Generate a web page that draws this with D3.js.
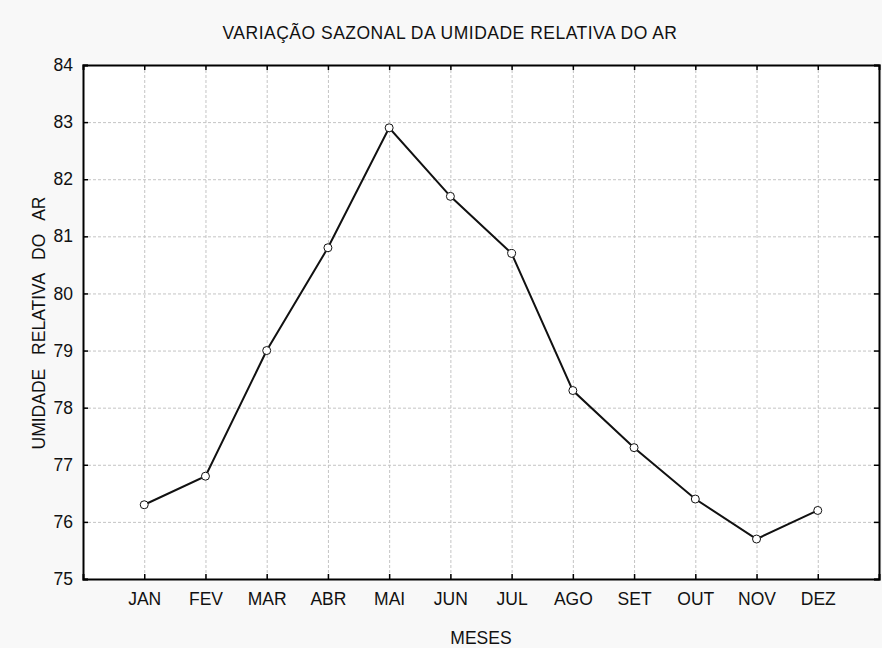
<!DOCTYPE html>
<html>
<head>
<meta charset="utf-8">
<script src="https://cdn.jsdelivr.net/npm/d3@7"></script>
<style>
  body { margin: 0; background: #f8f8f8; }
  text { font-family: "Liberation Sans", Arial, sans-serif; }
</style>
</head>
<body>
<svg width="882" height="648"></svg>
<script>
var months = ["JAN","FEV","MAR","ABR","MAI","JUN","JUL","AGO","SET","OUT","NOV","DEZ"]
var umidade = [76.3, 76.8, 79.0, 80.8, 82.9, 81.7, 80.7, 78.3, 77.3, 76.4, 75.7, 76.2]
var yTicks = [75, 76, 77, 78, 79, 80, 81, 82, 83, 84]

var svg = d3.select("svg")
var plotL = 83, plotR = 879, plotT = 65, plotB = 579

var xScale = d3.scalePoint().domain(months).range([plotL, plotR]).padding(1)
var yScale = d3.scaleLinear().domain([75, 84]).range([plotB, plotT])

svg.append("rect").attr("x", plotL).attr("y", plotT)
  .attr("width", plotR - plotL).attr("height", plotB - plotT).attr("fill", "#fff")

// grid
var grid = svg.append("g").attr("stroke", "#c4c4c4").attr("stroke-dasharray", "3,2").attr("stroke-width", 1)
grid.selectAll("line.gx").data(months).enter().append("line")
  .attr("x1", d => xScale(d) + 0.5).attr("x2", d => xScale(d) + 0.5)
  .attr("y1", plotT).attr("y2", plotB)
grid.selectAll("line.gy").data(yTicks.slice(1, -1)).enter().append("line")
  .attr("y1", d => yScale(d) + 0.5).attr("y2", d => yScale(d) + 0.5)
  .attr("x1", plotL).attr("x2", plotR)

// axes with inward ticks
var xAxis = d3.axisBottom(xScale).tickSize(-5).tickPadding(14)
svg.append("g").attr("transform", "translate(0," + plotB + ")").call(xAxis)
var xTop = d3.axisTop(xScale).tickSize(-5).tickFormat("")
svg.append("g").attr("transform", "translate(0," + plotT + ")").call(xTop)
var yAxis = d3.axisLeft(yScale).tickValues(yTicks).tickSize(-5).tickPadding(10)
svg.append("g").attr("transform", "translate(" + plotL + ",0)").call(yAxis)
var yRight = d3.axisRight(yScale).tickValues(yTicks).tickSize(-5).tickFormat("")
svg.append("g").attr("transform", "translate(" + plotR + ",0)").call(yRight)

svg.selectAll(".domain").attr("stroke", "#000").attr("stroke-width", 2)
svg.selectAll(".tick line").attr("stroke", "#000").attr("stroke-width", 1.5)
svg.selectAll(".tick text").attr("font-size", 17.5).attr("fill", "#111")
  .style("font-family", "Liberation Sans, Arial, sans-serif")

// line and points
var line = d3.line().x((d, i) => xScale(months[i])).y(d => yScale(d))
svg.append("path").datum(umidade).attr("d", line)
  .attr("fill", "none").attr("stroke", "#111").attr("stroke-width", 2)
svg.selectAll("circle").data(umidade).enter().append("circle")
  .attr("cx", (d, i) => xScale(months[i])).attr("cy", d => yScale(d))
  .attr("r", 4).attr("fill", "#fff").attr("stroke", "#111").attr("stroke-width", 1)

// titles
svg.append("text").attr("x", 450).attr("y", 39).attr("text-anchor", "middle")
  .attr("font-size", 17.5).attr("fill", "#111").style("letter-spacing", "0.5px")
  .text("VARIAÇÃO SAZONAL DA UMIDADE RELATIVA DO AR")
svg.append("text").attr("x", 481).attr("y", 644).attr("text-anchor", "middle")
  .attr("font-size", 17.5).attr("fill", "#111").text("MESES")
svg.append("text").attr("transform", "translate(45,323) rotate(-90)")
  .attr("text-anchor", "middle").attr("font-size", 17.5).attr("fill", "#111")
  .style("word-spacing", "9px")
  .text("UMIDADE RELATIVA DO AR")
</script>
</body>
</html>
